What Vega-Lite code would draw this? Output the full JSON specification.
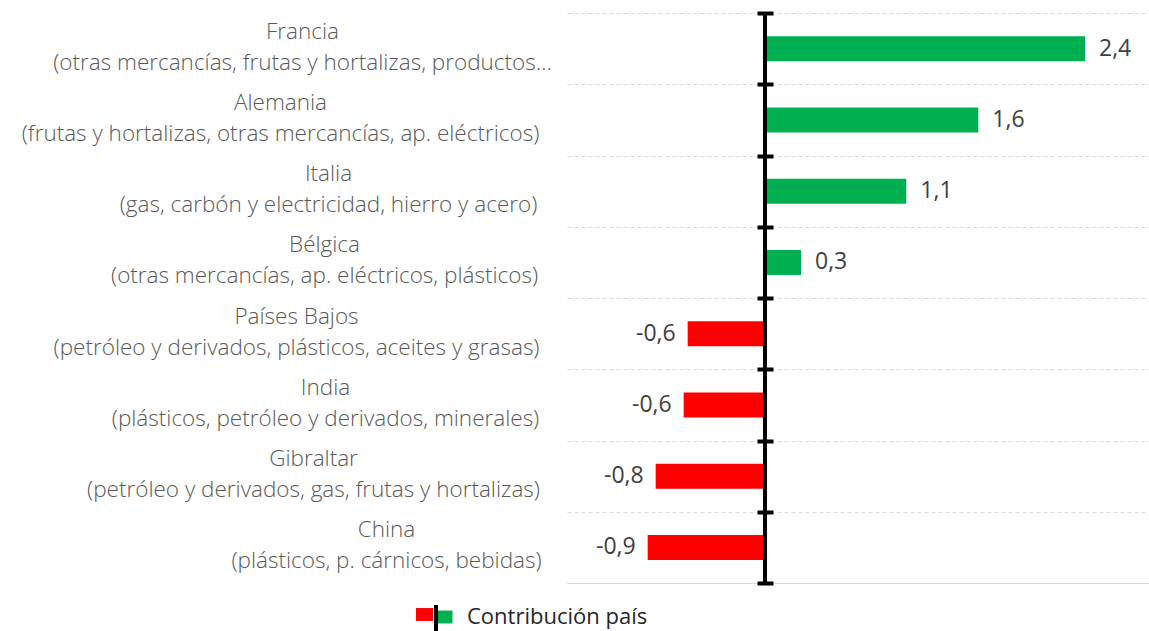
{
  "$schema": "https://vega.github.io/schema/vega-lite/v6.json",
  "width": 582,
  "height": 570,
  "autosize": {"type": "none"},
  "padding": {"left": 567, "top": 13, "right": 0, "bottom": 48},
  "background": "white",
  "config": {
    "view": {"stroke": null},
    "locale": {"number": {"decimal": ",", "thousands": ".", "grouping": [3], "currency": ["", " €"], "minus": "-"}}
  },
  "data": {
    "values": [
      {"categoria": "Francia\n(otras mercancías, frutas y hortalizas, productos…", "signo": "positivo", "valor": 2.4},
      {"categoria": "Alemania\n(frutas y hortalizas, otras mercancías, ap. eléctricos)", "signo": "positivo", "valor": 1.6},
      {"categoria": "Italia\n(gas, carbón y electricidad, hierro y acero)", "signo": "positivo", "valor": 1.06},
      {"categoria": "Bélgica\n(otras mercancías, ap. eléctricos, plásticos)", "signo": "positivo", "valor": 0.27},
      {"categoria": "Países Bajos\n(petróleo y derivados, plásticos, aceites y grasas)", "signo": "negativo", "valor": -0.58},
      {"categoria": "India\n(plásticos, petróleo y derivados, minerales)", "signo": "negativo", "valor": -0.61},
      {"categoria": "Gibraltar\n(petróleo y derivados, gas, frutas y hortalizas)", "signo": "negativo", "valor": -0.82},
      {"categoria": "China\n(plásticos, p. cárnicos, bebidas)", "signo": "negativo", "valor": -0.88}
    ]
  },
  "encoding": {
    "x": {
      "field": "valor", "type": "quantitative",
      "scale": {"domain": [-1.485, 2.88], "nice": false, "zero": false},
      "axis": {"orient": "bottom", "title": null, "labels": false, "ticks": false, "grid": false, "domain": true, "domainColor": "#d9d9d9", "domainWidth": 1}
    }
  },
  "layer": [
    {
      "mark": {"type": "bar", "size": 25, "strokeWidth": 0},
      "encoding": {
        "y": {
          "field": "categoria", "type": "nominal", "sort": null,
          "scale": {"paddingInner": 0, "paddingOuter": 0},
          "axis": {
            "orient": "left", "title": null, "domain": false, "ticks": false, "tickSize": 0, "grid": false,
            "labelExpr": "split(datum.value, '\\n')",
            "labelAlign": "center", "labelBaseline": "middle",
            "labelFont": "Open Sans", "labelFontSize": 22.5, "labelFontWeight": 300, "labelColor": "#595959",
            "labelLineHeight": 31, "labelOffset": -17, "labelLimit": 1000,
            "labelPadding": {
              "condition": [
                {"test": "substring(datum.value, 0, 7) === 'Francia'", "value": 265},
                {"test": "substring(datum.value, 0, 8) === 'Alemania'", "value": 287},
                {"test": "substring(datum.value, 0, 6) === 'Italia'", "value": 239},
                {"test": "substring(datum.value, 0, 7) === 'Bélgica'", "value": 243},
                {"test": "substring(datum.value, 0, 6) === 'Países'", "value": 271},
                {"test": "substring(datum.value, 0, 5) === 'India'", "value": 242},
                {"test": "substring(datum.value, 0, 9) === 'Gibraltar'", "value": 254},
                {"test": "substring(datum.value, 0, 5) === 'China'", "value": 181}
              ],
              "value": 250
            }
          }
        },
        "color": {
          "field": "signo", "type": "nominal",
          "scale": {"domain": ["negativo", "positivo"], "range": ["#ff0000", "#00b050"]},
          "legend": {
            "orient": "none", "legendX": -134, "legendY": 593, "direction": "horizontal", "title": null,
            "values": ["positivo"],
            "symbolType": "M-1,-0.76H1V0.76H-1Z", "symbolSize": 289, "symbolStrokeWidth": 0,
            "labelExpr": "'Contribución país'",
            "labelFont": "Open Sans", "labelFontSize": 22, "labelColor": "#262626",
            "labelOffset": 12, "padding": 0, "labelLimit": 1000
          }
        },
        "stroke": {
          "datum": "negativo", "type": "nominal",
          "scale": {"range": ["#ff0000"]},
          "legend": {
            "orient": "none", "legendX": -151, "legendY": 593, "title": null,
            "symbolType": "M-1,-0.76H1V0.76H-1Z", "symbolSize": 289, "symbolStrokeWidth": 0,
            "symbolFillColor": "#ff0000",
            "labelExpr": "''", "padding": 0
          }
        }
      }
    },
    {
      "mark": {"type": "rule", "strokeWidth": 4},
      "encoding": {
        "x": {"datum": 0, "type": "quantitative"},
        "stroke": {
          "datum": "eje", "type": "nominal",
          "scale": {"range": ["black"]},
          "legend": {
            "orient": "none", "legendX": -147, "legendY": 590, "title": null,
            "symbolType": "M0,-1V1", "symbolSize": 784, "symbolStrokeWidth": 4, "symbolStrokeColor": "black",
            "labelExpr": "''", "padding": 0
          }
        }
      }
    },
    {
      "transform": [{"filter": "datum.valor > 0"}],
      "mark": {"type": "text", "align": "left", "baseline": "middle", "dx": 14, "font": "Open Sans", "fontSize": 23, "color": "#404040"},
      "encoding": {
        "y": {
          "field": "categoria", "type": "nominal", "sort": null,
          "axis": {
            "orient": "left", "offset": -190, "title": null, "domain": false, "labels": false, "grid": false,
            "ticks": true, "tickSize": -16, "tickWidth": 4, "tickColor": "black", "tickBand": "extent"
          }
        },
        "text": {"field": "valor", "type": "quantitative", "format": ".1f"}
      }
    },
    {
      "transform": [{"filter": "datum.valor < 0"}],
      "mark": {"type": "text", "align": "right", "baseline": "middle", "dx": -12, "font": "Open Sans", "fontSize": 23, "color": "#404040"},
      "encoding": {
        "y": {
          "field": "categoria", "type": "nominal", "sort": null,
          "axis": {
            "orient": "left", "title": null, "domain": false, "labels": false, "ticks": false,
            "grid": true, "gridColor": "#d9d9d9", "gridDash": [4, 3], "gridWidth": 1, "tickBand": "extent"
          }
        },
        "text": {"field": "valor", "type": "quantitative", "format": ".1f"}
      }
    },
    {
      "data": {"values": [{"nota": "Dic 23 | Murcia, Región de"}]},
      "mark": {"type": "text", "align": "left", "baseline": "middle", "dy": 22, "font": "Open Sans", "fontSize": 13, "color": "#7f7f7f"},
      "encoding": {
        "x": {"datum": 1.54, "type": "quantitative"},
        "y": {"datum": "China\n(plásticos, p. cárnicos, bebidas)", "type": "nominal", "axis": null},
        "text": {"field": "nota", "type": "nominal"}
      }
    }
  ],
  "resolve": {"axis": {"y": "independent"}, "scale": {"stroke": "independent"}}
}
